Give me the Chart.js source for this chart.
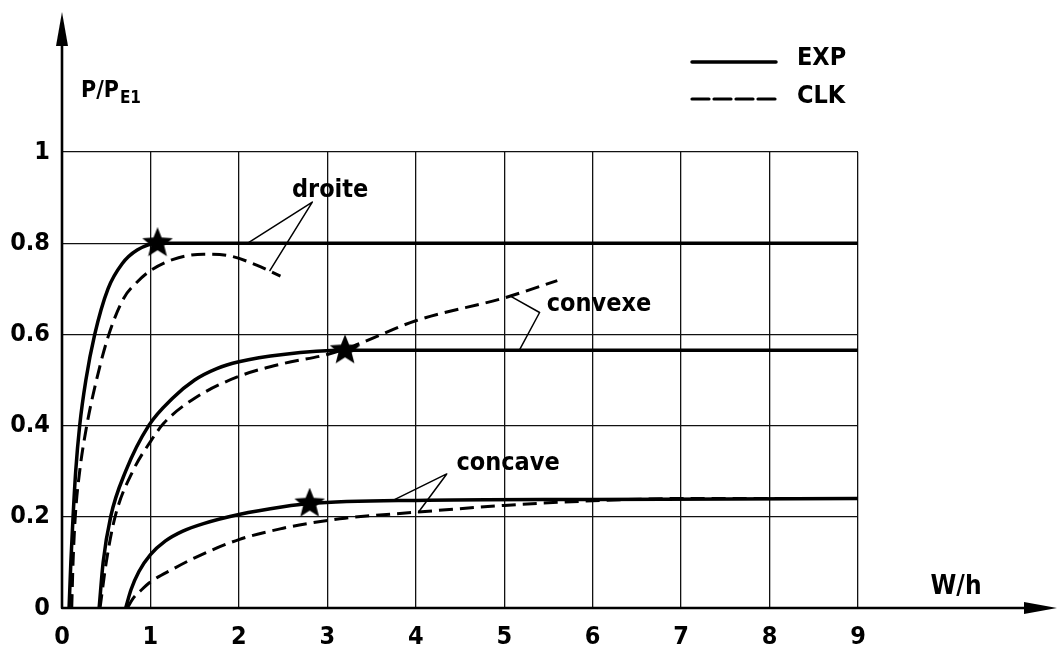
<!DOCTYPE html>
<html>
<head>
<meta charset="utf-8">
<script src="https://cdn.jsdelivr.net/npm/chart.js@4.4.1/dist/chart.umd.min.js"></script>
<style>
  html, body { margin: 0; padding: 0; background: #fff; }
</style>
</head>
<body>
<canvas id="myChart" width="1060" height="660"></canvas>
<script>
const xTicks = [0, 1, 2, 3, 4, 5, 6, 7, 8, 9];
const yTicks = ['0', '0.2', '0.4', '0.6', '0.8', '1'];

// droite
const droiteExpX = [0.08, 0.1, 0.125, 0.155, 0.2, 0.27, 0.37, 0.52, 0.68, 0.85, 1.08, 3, 6, 9];
const droiteExpY = [0, 0.1, 0.2, 0.3, 0.4, 0.5, 0.6, 0.7, 0.755, 0.785, 0.8, 0.8, 0.8, 0.8];
const droiteClkX = [0.11, 0.125, 0.15, 0.2, 0.28, 0.39, 0.53, 0.7, 0.85, 1.0, 1.25, 1.6, 1.9, 2.2, 2.47];
const droiteClkY = [0, 0.1, 0.2, 0.3, 0.4, 0.5, 0.6, 0.68, 0.715, 0.74, 0.764, 0.776, 0.772, 0.752, 0.728];

// convexe
const convexeExpX = [0.42, 0.465, 0.55, 0.72, 0.98, 1.25, 1.5, 1.75, 2.0, 2.5, 3.2, 6, 9];
const convexeExpY = [0, 0.1, 0.2, 0.3, 0.4, 0.46, 0.5, 0.525, 0.54, 0.556, 0.565, 0.565, 0.565];
const convexeClkX = [0.43, 0.5, 0.6, 0.8, 1.0, 1.15, 1.5, 2.0, 2.5, 3.0, 3.3, 4.0, 5.0, 5.6];
const convexeClkY = [0, 0.1, 0.2, 0.3, 0.365, 0.405, 0.46, 0.508, 0.536, 0.556, 0.575, 0.63, 0.68, 0.718];

// concave
const concaveExpX = [0.72, 0.78, 0.87, 1.0, 1.17, 1.36, 1.6, 2.0, 2.5, 2.8, 4.0, 6.0, 9.0];
const concaveExpY = [0, 0.04, 0.08, 0.117, 0.147, 0.168, 0.185, 0.205, 0.222, 0.229, 0.236, 0.238, 0.24];
const concaveClkX = [0.74, 0.8, 0.9, 1.0, 1.25, 1.5, 2.0, 2.5, 2.8, 3.2, 4.0, 5.0, 6.0, 7.0, 9.0];
const concaveClkY = [0, 0.02, 0.04, 0.057, 0.085, 0.11, 0.15, 0.175, 0.186, 0.197, 0.21, 0.225, 0.235, 0.24, 0.24];

// stars (end of the EXP rise)
const starX = [1.08, 3.2, 2.8];
const starY = [0.8, 0.565, 0.229];

const notes = [
  { text: 'droite', x: 2.6, y: 0.915, from: [2.83, 0.89], to: [[2.1, 0.8], [2.35, 0.74]] },
  { text: 'convexe', x: 5.48, y: 0.665, from: [5.4, 0.648], to: [[5.08, 0.683], [5.17, 0.565]] },
  { text: 'concave', x: 4.46, y: 0.316, from: [4.35, 0.294], to: [[3.73, 0.235], [4.03, 0.21]] }
];

const FONT = "'DejaVu Sans Condensed', 'DejaVu Sans', sans-serif";
const DASH = [14, 7];

function pts(xs, ys) {
  return xs.map((x, i) => ({ x: x, y: ys[i] }));
}

function makeStar(size) {
  const c = document.createElement('canvas');
  c.width = size;
  c.height = size;
  const g = c.getContext('2d');
  g.translate(size / 2, size / 2);
  g.beginPath();
  for (let i = 0; i < 10; i++) {
    const r = i % 2 === 0 ? size / 2 : size / 4.6;
    const a = -Math.PI / 2 + i * Math.PI / 5;
    g.lineTo(r * Math.cos(a), r * Math.sin(a));
  }
  g.closePath();
  g.fillStyle = '#000';
  g.fill();
  return c;
}

function curve(label, xs, ys, dashed) {
  return {
    label: label,
    data: pts(xs, ys),
    borderColor: '#000',
    borderWidth: dashed ? 3 : 3.5,
    borderDash: dashed ? DASH : [],
    pointRadius: 0,
    fill: false,
    cubicInterpolationMode: 'monotone'
  };
}

const decor = {
  id: 'decor',
  afterDraw(chart) {
    const g = chart.ctx;
    const xs = chart.scales.x;
    const ys = chart.scales.y;
    const a = chart.chartArea;
    g.save();
    g.strokeStyle = '#000';
    g.fillStyle = '#000';
    g.lineCap = 'round';

    // axes with arrows
    g.lineWidth = 2.6;
    g.beginPath();
    g.moveTo(a.left, a.bottom);
    g.lineTo(a.left, 40);
    g.moveTo(a.left, a.bottom);
    g.lineTo(1030, a.bottom);
    g.stroke();
    g.beginPath();
    g.moveTo(a.left, 12);
    g.lineTo(a.left - 6, 46);
    g.lineTo(a.left + 6, 46);
    g.closePath();
    g.fill();
    g.beginPath();
    g.moveTo(1057, a.bottom);
    g.lineTo(1024, a.bottom - 6);
    g.lineTo(1024, a.bottom + 6);
    g.closePath();
    g.fill();

    // axis titles
    g.textBaseline = 'alphabetic';
    g.textAlign = 'left';
    g.font = 'bold 23px ' + FONT;
    g.fillText('P/P', 81, 97);
    const w = g.measureText('P/P').width;
    g.font = 'bold 17px ' + FONT;
    g.fillText('E1', 81 + w + 1, 103);
    g.font = 'bold 26px ' + FONT;
    g.textBaseline = 'middle';
    g.fillText('W/h', xs.getPixelForValue(9.82), ys.getPixelForValue(0.045));

    // curve labels with leader lines
    g.lineWidth = 1.5;
    notes.forEach(n => {
      const fx = xs.getPixelForValue(n.from[0]);
      const fy = ys.getPixelForValue(n.from[1]);
      g.beginPath();
      n.to.forEach(t => {
        g.moveTo(fx, fy);
        g.lineTo(xs.getPixelForValue(t[0]), ys.getPixelForValue(t[1]));
      });
      g.stroke();
      g.font = 'bold 25px ' + FONT;
      g.textBaseline = 'middle';
      g.fillText(n.text, xs.getPixelForValue(n.x), ys.getPixelForValue(n.y));
    });

    // legend
    g.lineWidth = 3.5;
    g.beginPath();
    g.moveTo(692, 62);
    g.lineTo(776, 62);
    g.stroke();
    g.lineWidth = 3.2;
    g.setLineDash([17, 5]);
    g.beginPath();
    g.moveTo(692, 99);
    g.lineTo(776, 99);
    g.stroke();
    g.setLineDash([]);
    g.font = 'bold 25px ' + FONT;
    g.textBaseline = 'middle';
    g.fillText('EXP', 797, 58);
    g.fillText('CLK', 797, 96);
    g.restore();
  }
};

const ctx = document.getElementById('myChart');

let myChart = new Chart(ctx, {
  type: 'line',
  data: {
    datasets: [
      curve('EXP droite', droiteExpX, droiteExpY, false),
      curve('CLK droite', droiteClkX, droiteClkY, true),
      curve('EXP convexe', convexeExpX, convexeExpY, false),
      curve('CLK convexe', convexeClkX, convexeClkY, true),
      curve('EXP concave', concaveExpX, concaveExpY, false),
      curve('CLK concave', concaveClkX, concaveClkY, true),
      {
        label: 'stars',
        data: pts(starX, starY),
        showLine: false,
        pointStyle: makeStar(32),
        pointRadius: 14,
        borderColor: '#000',
        backgroundColor: '#000'
      }
    ]
  },
  options: {
    responsive: false,
    animation: false,
    layout: { padding: { left: 0, top: 152, right: 202, bottom: 0 } },
    plugins: {
      legend: { display: false },
      tooltip: { enabled: false }
    },
    scales: {
      x: {
        type: 'linear',
        min: 0,
        max: 9,
        afterFit: s => { s.height = 52; },
        afterBuildTicks: s => { s.ticks = xTicks.map(v => ({ value: v })); },
        ticks: {
          color: '#000',
          padding: 14,
          maxRotation: 0,
          font: { family: FONT, size: 25, weight: 'bold' },
          callback: v => String(v)
        },
        grid: { color: '#111', lineWidth: 1.3, drawTicks: false },
        border: { display: false }
      },
      y: {
        type: 'linear',
        min: 0,
        max: 1,
        afterFit: s => { s.width = 62; },
        afterBuildTicks: s => { s.ticks = yTicks.map(v => ({ value: parseFloat(v) })); },
        ticks: {
          color: '#000',
          padding: 12,
          font: { family: FONT, size: 25, weight: 'bold' },
          callback: (v, i) => yTicks[i]
        },
        grid: { color: '#111', lineWidth: 1.3, drawTicks: false },
        border: { display: false }
      }
    }
  },
  plugins: [decor]
});
</script>
</body>
</html>
